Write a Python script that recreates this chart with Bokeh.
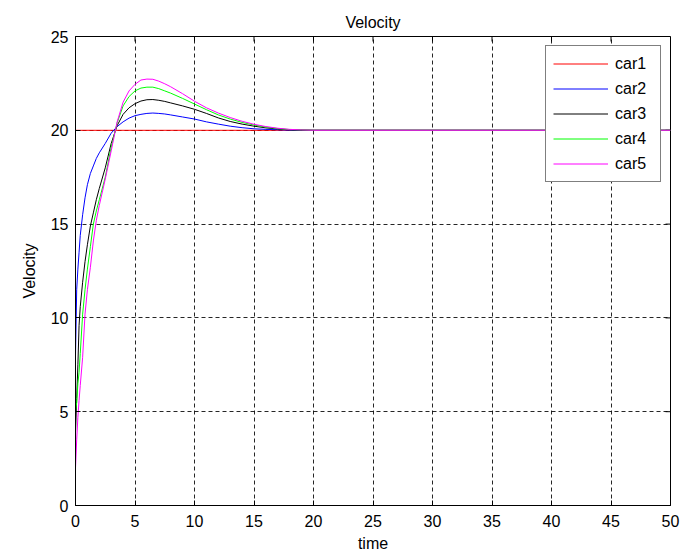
from bokeh.plotting import figure
from bokeh.models import Range1d, FixedTicker, Legend, LegendItem
from bokeh.embed import file_html
from bokeh.resources import INLINE

# ---- data ----
time = [0, 0.1, 0.2, 0.3, 0.4, 0.6, 0.8, 1.0, 1.25, 1.5, 1.75, 2.0, 2.5, 3.0, 3.5,
        4, 4.5, 5, 5.5, 6, 6.5, 7, 7.5, 8, 9, 10, 11, 12, 13, 14, 15, 16, 17, 18,
        19, 20, 50]

car1_t = [0, 50]
car1 = [20, 20]

car2 = [8.0, 11.5, 12.6, 13.5, 14.4, 15.5, 16.4, 17.1, 17.7, 18.1, 18.5, 18.8, 19.3,
        19.85, 20.2, 20.45, 20.65, 20.78, 20.85, 20.9, 20.92, 20.9, 20.87, 20.82, 20.71,
        20.6, 20.45, 20.33, 20.22, 20.14, 20.08, 20.05, 20.03, 20.01, 20.0, 20.0, 20.0]

car3 = [3.9, 5.7, 7.5, 9.6, 10.6, 11.9, 13.0, 13.9, 14.9, 15.6, 16.3, 16.9, 18.0,
        19.3, 20.25, 20.85, 21.2, 21.42, 21.56, 21.63, 21.64, 21.6, 21.54, 21.46, 21.3,
        21.12, 20.9, 20.66, 20.47, 20.33, 20.22, 20.13, 20.07, 20.03, 20.01, 20.0, 20.0]

car4 = [5.0, 5.5, 6.5, 7.1, 8.1, 10.2, 11.5, 12.6, 13.8, 15.0, 15.7, 16.3, 17.5,
        19.1, 20.4, 21.3, 21.8, 22.1, 22.25, 22.3, 22.3, 22.22, 22.1, 21.98, 21.7,
        21.4, 21.1, 20.82, 20.6, 20.42, 20.28, 20.17, 20.09, 20.04, 20.02, 20.0, 20.0]

car5 = [2.0, 3.5, 4.7, 5.6, 6.4, 7.9, 10.2, 11.5, 12.7, 14.1, 15.2, 16.0, 17.4,
        18.9, 20.45, 21.5, 22.1, 22.45, 22.68, 22.73, 22.72, 22.62, 22.48, 22.32, 21.95,
        21.55, 21.2, 20.92, 20.68, 20.48, 20.32, 20.2, 20.11, 20.05, 20.02, 20.0, 20.0]

names = ["car1", "car2", "car3", "car4", "car5"]
colors = ["#ff0000", "#0000ff", "#000000", "#00ff00", "#ff00ff"]
x_ticks = [0, 5, 10, 15, 20, 25, 30, 35, 40, 45, 50]
y_ticks = [0, 5, 10, 15, 20, 25]

FONT = "Liberation Sans"
X0, X1, Y0, Y1 = 0, 50, 0, 25
FRAME_W, FRAME_H = 595, 469
TICK_PX = 5

p = figure(width=687, height=555, output_backend="svg", toolbar_location=None,
           x_range=Range1d(X0, X1), y_range=Range1d(Y0, Y1),
           min_border_left=75, min_border_right=17, min_border_top=36, min_border_bottom=50,
           title="Velocity")
p.background_fill_color = "white"
p.border_fill_color = "white"
p.outline_line_color = "black"
p.outline_line_width = 1

p.title.align = "center"
p.title.vertical_align = "middle"
p.title.text_font = FONT
p.title.text_font_size = "16px"
p.title.text_font_style = "normal"
p.title.text_color = "black"
p.title.standoff = 10

for ax, ticks in ((p.xaxis[0], x_ticks), (p.yaxis[0], y_ticks)):
    ax.ticker = FixedTicker(ticks=ticks)
    ax.major_tick_in = TICK_PX
    ax.major_tick_out = 0
    ax.minor_tick_line_color = None
    ax.axis_line_color = "black"
    ax.major_tick_line_color = "black"
    ax.major_label_text_font = FONT
    ax.major_label_text_font_size = "16px"
    ax.major_label_text_color = "black"
    ax.axis_label_text_font = FONT
    ax.axis_label_text_font_size = "16px"
    ax.axis_label_text_font_style = "normal"
    ax.axis_label_text_color = "black"

p.xaxis.axis_label = "time"
p.yaxis.axis_label = "Velocity"
p.xaxis.major_label_standoff = 9
p.xaxis.axis_label_standoff = 5
p.yaxis.major_label_standoff = 7
p.yaxis.axis_label_standoff = 10

for g in (p.xgrid[0], p.ygrid[0]):
    g.grid_line_color = "black"
    g.grid_line_dash = "4 3"
    g.grid_line_width = 1
    g.grid_line_alpha = 0.85
p.xgrid.ticker = FixedTicker(ticks=x_ticks)
p.ygrid.ticker = FixedTicker(ticks=y_ticks)

# inward tick marks on the top and right edges of the box
dy = TICK_PX * (Y1 - Y0) / FRAME_H
dx = TICK_PX * (X1 - X0) / FRAME_W
p.segment(x0=x_ticks, y0=[Y1] * len(x_ticks), x1=x_ticks, y1=[Y1 - dy] * len(x_ticks),
          line_color="black", line_width=1)
p.segment(x0=[X1] * len(y_ticks), y0=y_ticks, x1=[X1 - dx] * len(y_ticks), y1=y_ticks,
          line_color="black", line_width=1)

series = [(car1_t, car1), (time, car2), (time, car3), (time, car4), (time, car5)]
items = []
for (xs, ys), name, c in zip(series, names, colors):
    r = p.line(xs, ys, line_color=c, line_width=1)
    items.append(LegendItem(label=name, renderers=[r]))

legend = Legend(items=items, location="top_right", margin=9, padding=7,
                glyph_width=55, glyph_height=21, spacing=4, label_standoff=7,
                label_width=38, label_text_font=FONT, label_text_font_size="16px",
                label_text_color="black", border_line_color="black",
                border_line_width=1, background_fill_color="white",
                background_fill_alpha=1.0)
p.add_layout(legend, "center")

open("out.html", "w").write(file_html(p, INLINE))
